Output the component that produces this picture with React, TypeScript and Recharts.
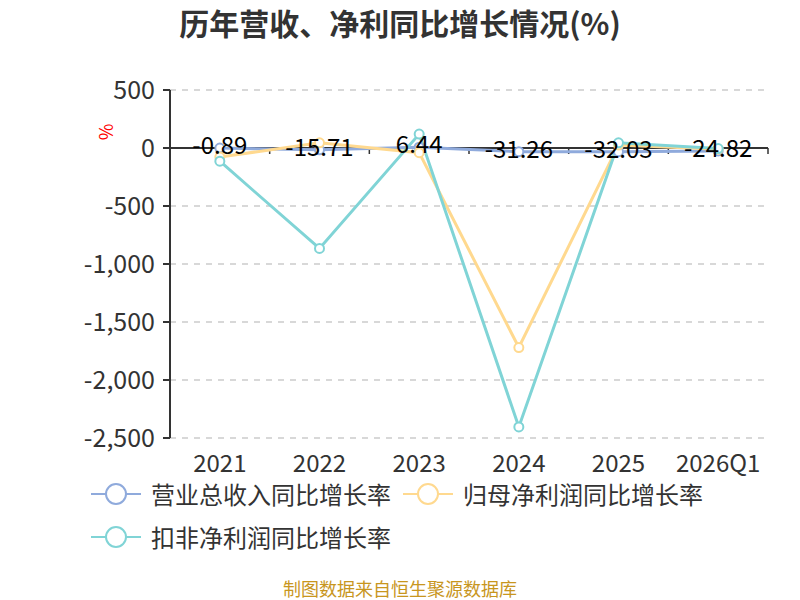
import React from 'react';
import { LineChart, Line, XAxis, YAxis, CartesianGrid, Legend, LabelList, ReferenceLine } from 'recharts';

const years = ['2021', '2022', '2023', '2024', '2025', '2026Q1'];
const revenueGrowth = [-0.89, -15.71, 6.44, -31.26, -32.03, -24.82];
const netProfitGrowth = [-78, 45, -40, -1720, 25, -10];
const deductedProfitGrowth = [-114, -866, 120, -2405, 45, -5];
const yTicks = [500, 0, -500, -1000, -1500, -2000, -2500];

const series = [
  { key: 'revenue', name: '营业总收入同比增长率', color: '#8FAADC' },
  { key: 'netProfit', name: '归母净利润同比增长率', color: '#FFD98F' },
  { key: 'deducted', name: '扣非净利润同比增长率', color: '#80D4D6' },
];

const data = years.map((year, i) => ({
  year,
  revenue: revenueGrowth[i],
  netProfit: netProfitGrowth[i],
  deducted: deductedProfitGrowth[i],
}));

const font = '"Noto Sans CJK SC", "Noto Sans", sans-serif';

const fmt = (v: number) => v.toLocaleString('en-US');

// zero line with the category boundary ticks hanging below it
const ZeroAxis = (props: any) => {
  const { x1, x2, y1 } = props;
  const n = years.length;
  const step = (x2 - x1) / n;
  const ticks = [];
  for (let k = 1; k <= n; k++) {
    const x = x1 + step * k;
    ticks.push(<line key={k} x1={x} x2={x} y1={y1} y2={y1 + 6} stroke="#333" strokeWidth={1.5} />);
  }
  return (
    <g>
      <line x1={x1} x2={x2} y1={y1} y2={y1} stroke="#333" strokeWidth={2} />
      {ticks}
    </g>
  );
};

const renderLegend = () => (
  <div style={{ fontFamily: font, fontSize: 24, lineHeight: '24px', color: '#333', width: 800 }}>
    {[series.slice(0, 2), series.slice(2)].map((row, r) => (
      <div key={r} style={{ display: 'flex', height: 43, alignItems: 'center', paddingLeft: 90 }}>
        {row.map((s) => (
          <div key={s.key} style={{ display: 'flex', alignItems: 'center', width: 312 }}>
            <svg width={52} height={22} style={{ marginRight: 9 }}>
              <line x1={1} x2={51} y1={11} y2={11} stroke={s.color} strokeWidth={2} />
              <circle cx={26} cy={11} r={10} fill="#fff" stroke={s.color} strokeWidth={2} />
            </svg>
            <span>{s.name}</span>
          </div>
        ))}
      </div>
    ))}
  </div>
);

const valueLabel = (props: any) => {
  const { x, y, value } = props;
  return (
    <text x={x} y={y} dy={6} textAnchor="middle" fontSize={24} fill="#000" fontFamily={font}>
      {value}
    </text>
  );
};

export default function App() {
  return (
    <div style={{ position: 'absolute', left: 0, top: 0, width: 800, height: 600, background: '#fff', fontFamily: font }}>
      <div style={{ position: 'absolute', top: 0, width: 800, textAlign: 'center', fontSize: 30, fontWeight: 'bold', color: '#333' }}>
        历年营收、净利同比增长情况(%)
      </div>
      <div style={{ position: 'absolute', left: 97, top: 119, color: 'red', fontSize: 18, transform: 'rotate(-90deg)' }}>%</div>
      <LineChart width={800} height={600} data={data} margin={{ top: 90, right: 32, bottom: 122, left: 0 }}>
        <CartesianGrid vertical={false} stroke="#ccc" strokeDasharray="6 6" strokeWidth={1.5} />
        <XAxis
          dataKey="year"
          scale="band"
          axisLine={false}
          tickLine={false}
          height={40}
          interval={0}
          tick={{ fill: '#333', fontSize: 24, fontFamily: font }}
          tickMargin={11}
        />
        <YAxis
          width={170}
          domain={[-2500, 500]}
          ticks={yTicks}
          interval={0}
          tickFormatter={fmt}
          axisLine={{ stroke: '#333', strokeWidth: 2 }}
          tickLine={{ stroke: '#333', strokeWidth: 2 }}
          tickSize={7}
          tickMargin={8}
          tick={{ fill: '#333', fontSize: 25, fontFamily: font }}
        />
        <ReferenceLine y={0} shape={ZeroAxis} />
        <Legend verticalAlign="middle" align="center" layout="horizontal" content={renderLegend} wrapperStyle={{ top: 472, left: 0, width: 800 }} />
        {series.map((s) => (
          <Line
            key={s.key}
            dataKey={s.key}
            name={s.name}
            stroke={s.color}
            strokeWidth={3}
            dot={{ r: 4.5, fill: '#fff', stroke: s.color, strokeWidth: 2 }}
            isAnimationActive={false}
          >
            {s.key === 'revenue' ? <LabelList dataKey="revenue" content={valueLabel} /> : null}
          </Line>
        ))}
      </LineChart>
      <div style={{ position: 'absolute', top: 576, width: 800, textAlign: 'center', fontSize: 18, lineHeight: '24px', color: '#C8961E' }}>
        制图数据来自恒生聚源数据库
      </div>
    </div>
  );
}
